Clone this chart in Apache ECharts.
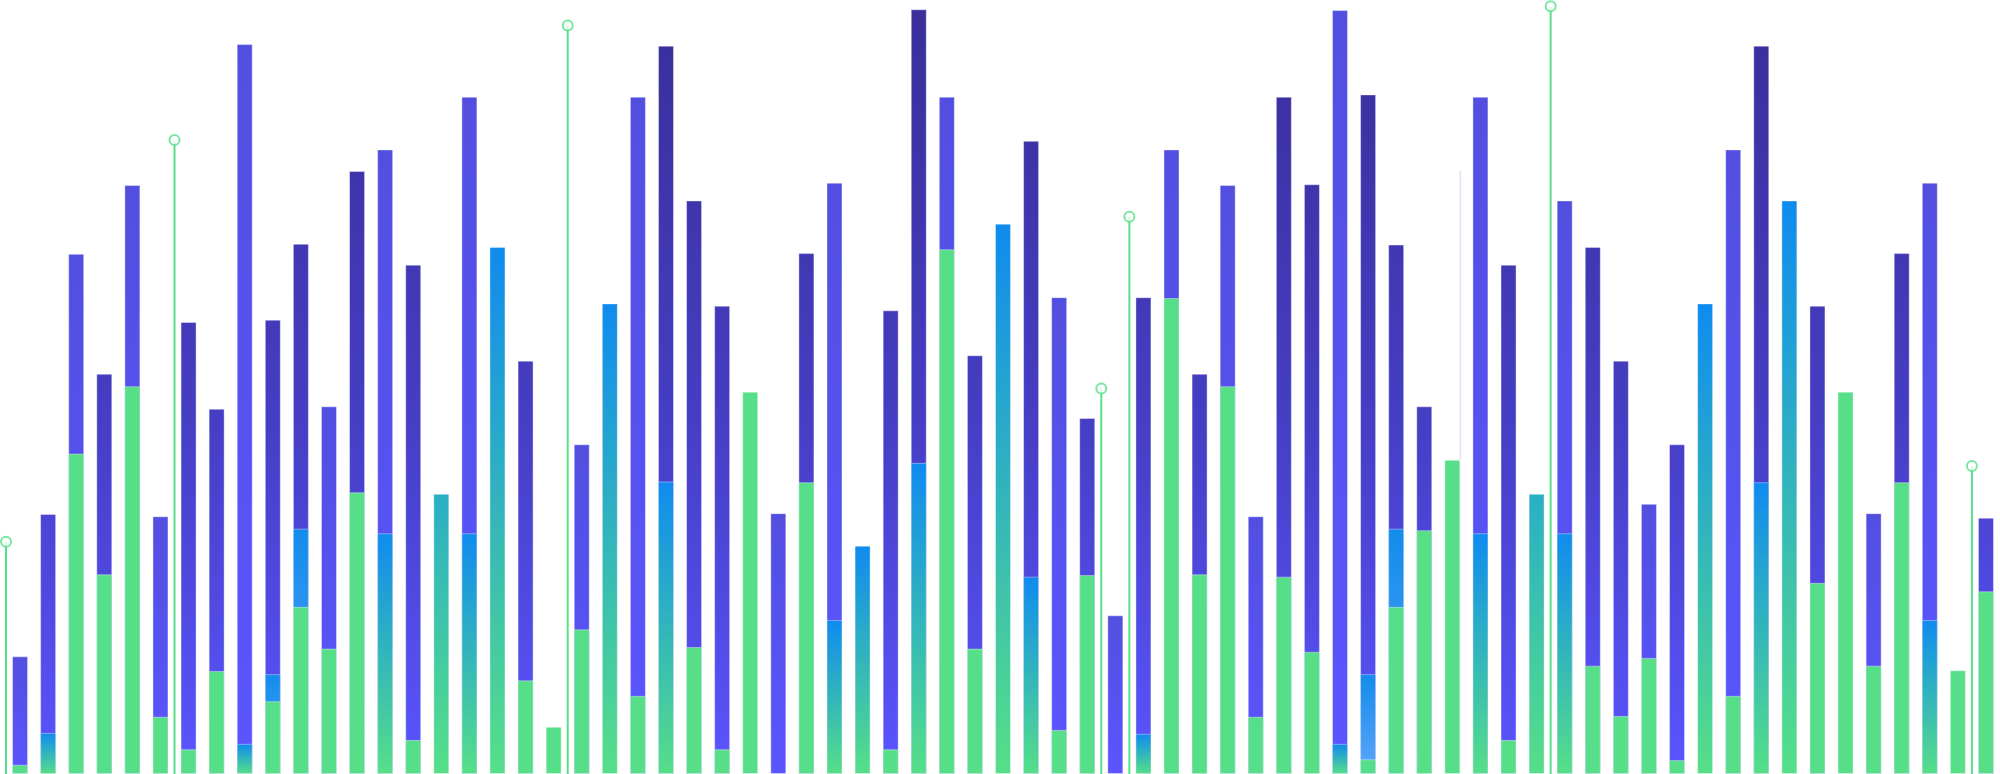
<!DOCTYPE html>
<html>
<head>
<meta charset="utf-8">
<script src="https://cdn.jsdelivr.net/npm/echarts@6/dist/echarts.min.js"></script>
<style>
  html, body { margin: 0; padding: 0; background: #ffffff; }
  #chart { width: 2000px; height: 774px; }
</style>
</head>
<body>
<div id="chart"></div>
<script>
// ---- data ----
const categories = Array.from({ length: 71 }, (_, i) => 'B' + (i + 1));
const pinSlotLabels = Array.from({ length: 72 }, (_, i) => 'P' + i);

// total height of bars with a light-violet cap
const purpleLight = [
  15.2, null, 67.2, null, 76.1, 33.3, null, null, 94.3, null,
  null, 47.5, null, 80.7, null, null, 87.5, null, null, null,
  42.6, null, 87.5, null, null, null, null, 33.7, null, 76.4,
  null, null, null, 87.5, null, null, null, 61.6, null, 20.5,
  null, 80.7, null, 76.1, 33.3, null, null, 98.7, null, null,
  null, null, 87.5, null, null, 74.1, null, null, 34.9, null,
  null, 80.7, null, null, null, null, 33.7, null, 76.4, null,
  null
];
// total height of bars with a dark-indigo cap
const purpleDark = [
  null, 33.6, null, 51.7, null, null, 58.4, 47.2, null, 58.7,
  68.5, null, 77.9, null, 65.8, null, null, null, 53.4, null,
  null, null, null, 94.1, 74.1, 60.5, null, null, 67.3, null,
  null, 59.9, 98.8, null, 54.1, null, 81.8, null, 46.0, null,
  61.6, null, 51.7, null, null, 87.5, 76.2, null, 87.8, 68.4,
  47.5, null, null, 65.8, null, null, 68.1, 53.4, null, 42.6,
  null, null, 94.1, null, 60.5, null, null, 67.3, null, null,
  33.1
];
const lightBlue = [
  null, null, null, null, null, null, null, null, null, 12.9,
  31.7, null, null, null, null, null, null, null, null, null,
  null, null, null, null, null, null, null, null, null, null,
  null, null, null, null, null, null, null, null, null, null,
  null, null, null, null, null, null, null, null, 12.9, 31.7,
  null, null, null, null, null, null, null, null, null, null,
  null, null, null, null, null, null, null, null, null, null,
  null
];
const blueFade = [
  null, 5.3, null, null, null, null, null, null, 3.9, null,
  null, null, null, 31.1, null, null, 31.1, 68.1, null, null,
  null, 60.8, null, 37.8, null, null, null, null, null, 19.9,
  29.5, null, 40.2, null, null, 71.1, 25.5, null, null, null,
  5.2, null, null, null, null, null, null, 3.9, null, null,
  null, null, 31.1, null, null, 31.1, null, null, null, null,
  60.8, null, 37.7, 74.1, null, null, null, null, 19.9, null,
  null
];
const tealFade = [
  null, null, null, null, null, null, null, null, null, null,
  null, null, null, null, null, 36.2, null, null, null, null,
  null, null, null, null, null, null, null, null, null, null,
  null, null, null, null, null, null, null, null, null, null,
  null, null, null, null, null, null, null, null, null, null,
  null, null, null, null, 36.2, null, null, null, null, null,
  null, null, null, null, null, null, null, null, null, null,
  null
];
const green = [
  1.2, null, 41.4, 25.8, 50.1, 7.4, 3.2, 13.3, null, 9.4,
  21.6, 16.2, 36.4, null, 4.4, null, null, null, 12.1, 6.1,
  18.7, null, 10.1, null, 16.4, 3.2, 49.4, null, 37.7, null,
  null, 3.2, null, 67.8, 16.2, null, null, 5.7, 25.7, null,
  null, 61.5, 25.8, 50.1, 7.4, 25.5, 15.8, null, 1.9, 21.6,
  31.5, 40.6, null, 4.4, null, null, 14.0, 7.5, 15.0, 1.8,
  null, 10.1, null, null, 24.7, 49.4, 14.0, 37.7, null, 13.4,
  23.6
];
// pins between bars: slot index (gap between bars) and height of the ring
const pinSlots = [0, 6, 20, 39, 40, 55, 70];
const pinValues = [30.0, 81.9, 96.7, 49.8, 72.0, 99.2, 39.8];
// faint hairline beside one bar: [bar index, from, to]
const hairline = [[51, 40.6, 77.9]];

// ---- build ----
const pinData = pinSlotLabels.map(() => null);
pinSlots.forEach((s, i) => { pinData[s] = pinValues[i]; });
const pinRings = pinSlots.map((s, i) => [s, pinValues[i]]);

const G = echarts.graphic.LinearGradient;
const grad = (a, b) => new G(0, 0, 0, 1, [{ offset: 0, color: a }, { offset: 1, color: b }]);
const GREEN = '#56df88';
const BAR_W = 16;
const border = { borderColor: 'rgba(255,255,255,0.38)', borderWidth: 1 };

function barSeries(name, data, color) {
  return {
    name, type: 'bar', data, xAxisIndex: 0, yAxisIndex: 0,
    barWidth: BAR_W, barGap: '-100%',
    itemStyle: Object.assign({ color }, border),
    silent: true
  };
}

const H = 774;
const indigoGlobal = new G(0, 0, 0, H, [
  { offset: 0, color: '#392e99' },
  { offset: 0.55, color: '#463ec4' },
  { offset: 1, color: '#5a55ff' }
], true);

const chart = echarts.init(document.getElementById('chart'), null, { renderer: 'canvas' });
chart.setOption({
  backgroundColor: '#ffffff',
  animation: false,
  grid: { left: 6, right: -5, top: 0, bottom: 0 },
  xAxis: [
    { type: 'category', data: categories, show: false, boundaryGap: true },
    { type: 'category', data: pinSlotLabels, show: false, boundaryGap: false }
  ],
  yAxis: [{ type: 'value', min: 0, max: 100, show: false, splitLine: { show: false } }],
  series: [
    barSeries('violet', purpleLight, grad('#524fe0', '#5a55ff')),
    barSeries('indigo', purpleDark, indigoGlobal),
    barSeries('sky', lightBlue, grad('#128ceb', '#5ea6fb')),
    barSeries('blue', blueFade, grad('#0f8bef', GREEN)),
    barSeries('teal', tealFade, grad('#2aaec6', GREEN)),
    barSeries('green', green, GREEN),
    {
      name: 'pin', type: 'bar', xAxisIndex: 1, yAxisIndex: 0,
      data: pinData, barWidth: 2, clip: false, silent: true,
      itemStyle: { color: '#57e08a' }
    },
    {
      name: 'ring', type: 'scatter', xAxisIndex: 1, yAxisIndex: 0,
      data: pinRings, symbol: 'circle', symbolSize: 10, clip: false, silent: true,
      itemStyle: { color: '#ffffff', borderColor: '#57e08a', borderWidth: 2 }, z: 5
    },
    {
      name: 'hair', type: 'custom', xAxisIndex: 0, yAxisIndex: 0, silent: true,
      data: hairline,
      renderItem: function (params, api) {
        const top = api.coord([api.value(0), api.value(2)]);
        const bot = api.coord([api.value(0), api.value(1)]);
        const x = top[0] + BAR_W / 2;
        return {
          type: 'line',
          shape: { x1: x, y1: top[1], x2: x, y2: bot[1] },
          style: { stroke: '#e3e1f8', lineWidth: 1.5 }
        };
      }
    }
  ]
});
</script>
</body>
</html>
